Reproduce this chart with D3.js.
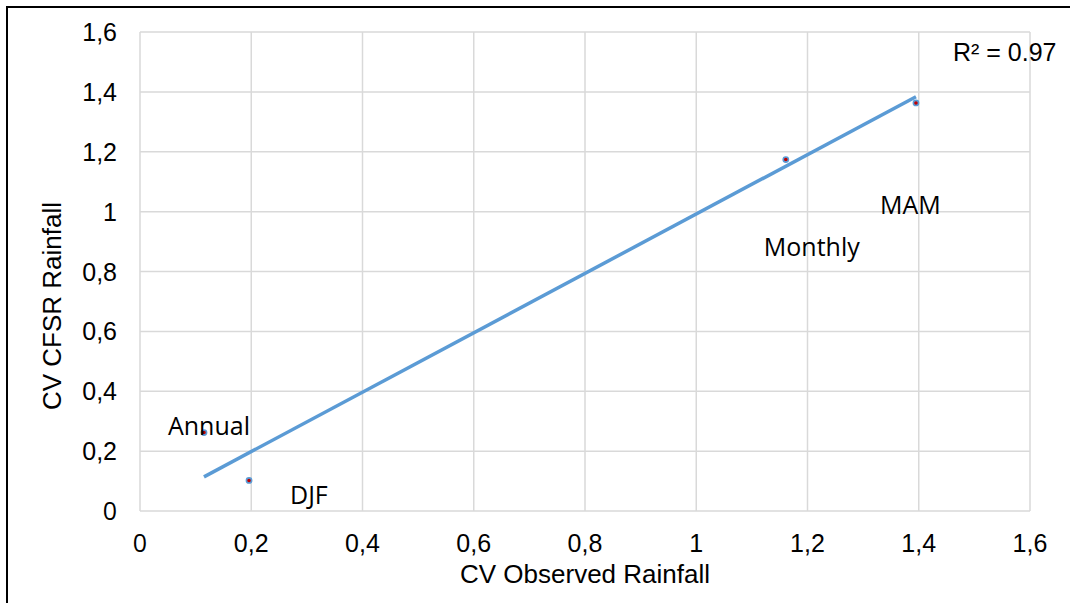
<!DOCTYPE html>
<html>
<head>
<meta charset="utf-8">
<script src="https://cdn.jsdelivr.net/npm/d3@7"></script>
<style>
  body { margin: 0; background: #fff; }
  svg { display: block; }
</style>
</head>
<body>
<div id="chart"></div>
<script>
// data
const seasons = ['Annual', 'DJF', 'Monthly', 'MAM'];
const observedCV = [0.115, 0.196, 1.161, 1.395];
const cfsrCV = [0.262, 0.102, 1.174, 1.363];
const xTicks = [0, 0.2, 0.4, 0.6, 0.8, 1, 1.2, 1.4, 1.6];
const yTicks = [0, 0.2, 0.4, 0.6, 0.8, 1, 1.2, 1.4, 1.6];
const trendSlope = 0.992;
const trendIntercept = 0.0;
const rSquared = '0.97';

// where the data labels sit, relative to each point (px)
const labelOffsets = [[-36, 2], [41, 24], [-22, 96], [-36, 111]];

const draw = (el) => {
  const dimensions = {
    width: 1070,
    height: 603,
    margin: { top: 32, right: 40, bottom: 92, left: 140 },
  };
  const innerW = dimensions.width - dimensions.margin.left - dimensions.margin.right;
  const innerH = dimensions.height - dimensions.margin.top - dimensions.margin.bottom;

  const svg = d3.select(el)
    .append('svg')
    .attr('width', dimensions.width)
    .attr('height', dimensions.height);

  // outer frame (only left and top show)
  svg.append('path')
    .attr('d', `M7,${dimensions.height} V7 H${dimensions.width}`)
    .attr('fill', 'none')
    .attr('stroke', '#000')
    .attr('stroke-width', 2);

  const g = svg.append('g')
    .attr('transform', `translate(${dimensions.margin.left}, ${dimensions.margin.top})`);

  const x = d3.scaleLinear().domain([0, 1.6]).range([0, innerW]);
  const y = d3.scaleLinear().domain([0, 1.6]).range([innerH, 0]);

  const fmt = (d) => String(+d.toFixed(1)).replace('.', ',');

  // grid
  g.append('g')
    .attr('stroke', '#d9d9d9')
    .attr('stroke-width', 1.5)
    .selectAll('line.v')
    .data(xTicks)
    .join('line')
    .attr('x1', (d) => x(d)).attr('x2', (d) => x(d))
    .attr('y1', 0).attr('y2', innerH);

  g.append('g')
    .attr('stroke', '#d9d9d9')
    .attr('stroke-width', 1.5)
    .selectAll('line.h')
    .data(yTicks)
    .join('line')
    .attr('y1', (d) => y(d)).attr('y2', (d) => y(d))
    .attr('x1', 0).attr('x2', innerW);

  // tick labels
  const tickFont = (d) => d === 0 ? "'Open Sans', sans-serif" : "'Liberation Sans', Arial, sans-serif";

  g.append('g')
    .selectAll('text')
    .data(xTicks)
    .join('text')
    .attr('x', (d) => x(d))
    .attr('y', innerH + 41)
    .attr('text-anchor', 'middle')
    .style('font-family', tickFont)
    .style('font-size', '25px')
    .attr('fill', '#000')
    .text(fmt);

  g.append('g')
    .selectAll('text')
    .data(yTicks)
    .join('text')
    .attr('x', -23)
    .attr('y', (d) => y(d))
    .attr('dy', '0.36em')
    .attr('text-anchor', 'end')
    .style('font-family', tickFont)
    .style('font-size', '25px')
    .attr('fill', '#000')
    .text(fmt);

  // axis titles
  svg.append('text')
    .attr('x', dimensions.margin.left + innerW / 2)
    .attr('y', 583)
    .attr('text-anchor', 'middle')
    .style('font-family', "'Liberation Sans', Arial, sans-serif")
    .style('font-size', '26px')
    .text('CV Observed Rainfall');

  svg.append('text')
    .attr('transform', 'translate(61, 306) rotate(-90)')
    .attr('text-anchor', 'middle')
    .style('font-family', "'Liberation Sans', Arial, sans-serif")
    .style('font-size', '26px')
    .text('CV CFSR Rainfall');

  // linear trend line over the range of the points
  const ext = d3.extent(observedCV);
  const trend = ext.map((v) => [v, trendSlope * v + trendIntercept]);
  g.append('path')
    .datum(trend)
    .attr('fill', 'none')
    .attr('stroke', '#5b9bd5')
    .attr('stroke-width', 3.5)
    .attr('d', d3.line().x((d) => x(d[0])).y((d) => y(d[1])));

  // points
  const pts = seasons.map((s, i) => ({ name: s, ox: observedCV[i], cy: cfsrCV[i], off: labelOffsets[i] }));

  g.append('g')
    .selectAll('circle')
    .data(pts)
    .join('circle')
    .attr('cx', (d) => x(d.ox))
    .attr('cy', (d) => y(d.cy))
    .attr('r', 2.6)
    .attr('fill', '#c00000')
    .attr('stroke', '#5b9bd5')
    .attr('stroke-width', 1.6);

  g.append('g')
    .selectAll('text')
    .data(pts)
    .join('text')
    .attr('x', (d) => x(d.ox) + d.off[0])
    .attr('y', (d) => y(d.cy) + d.off[1])
    .style('font-family', "'Open Sans', sans-serif")
    .style('font-size', '25px')
    .attr('fill', '#000')
    .text((d) => d.name);

  // R² label
  svg.append('text')
    .attr('x', 953)
    .attr('y', 61)
    .style('font-family', "'Liberation Sans', Arial, sans-serif")
    .style('font-size', '25px')
    .text(`R² = ${rSquared}`);
};

draw('#chart');
</script>
</body>
</html>
